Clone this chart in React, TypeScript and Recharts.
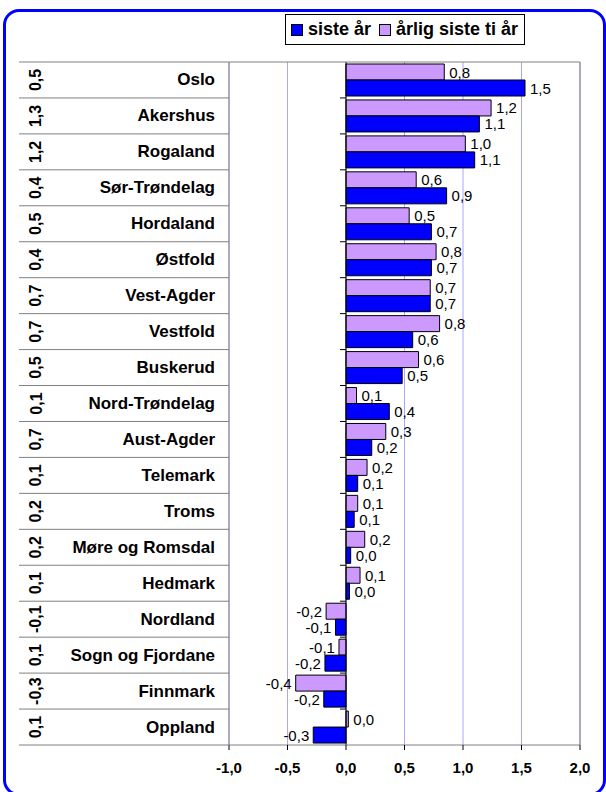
import React from "react";
import {
  BarChart,
  Bar,
  XAxis,
  YAxis,
  CartesianGrid,
  ReferenceLine,
  LabelList,
} from "recharts";

const CATEGORIES = [
  "Oslo",
  "Akershus",
  "Rogaland",
  "Sør-Trøndelag",
  "Hordaland",
  "Østfold",
  "Vest-Agder",
  "Vestfold",
  "Buskerud",
  "Nord-Trøndelag",
  "Aust-Agder",
  "Telemark",
  "Troms",
  "Møre og Romsdal",
  "Hedmark",
  "Nordland",
  "Sogn og Fjordane",
  "Finnmark",
  "Oppland",
];

// number shown rotated in the outer label column
const OUTER_VALUES = [
  0.5, 1.3, 1.2, 0.4, 0.5, 0.4, 0.7, 0.7, 0.5, 0.1, 0.7, 0.1, 0.2, 0.2, 0.1,
  -0.1, 0.1, -0.3, 0.1,
];

const SISTE_AAR = [
  1.53, 1.14, 1.1, 0.86, 0.73, 0.73, 0.72, 0.57, 0.48, 0.37, 0.22, 0.1, 0.07,
  0.04, 0.03, -0.09, -0.18, -0.19, -0.28,
];

const ARLIG_TI_AAR = [
  0.84, 1.24, 1.02, 0.6, 0.54, 0.77, 0.72, 0.8, 0.62, 0.09, 0.34, 0.18, 0.1,
  0.16, 0.12, -0.17, -0.06, -0.43, 0.02,
];

const X_TICKS = [-1, -0.5, 0, 0.5, 1, 1.5, 2];

const SERIES_NAMES = ["siste år", "årlig siste ti år"];
const BLUE = "#0000FF";
const PURPLE = "#CC99FF";

const data = CATEGORIES.map((name, i) => ({
  name,
  siste: SISTE_AAR[i],
  tiAar: ARLIG_TI_AAR[i],
}));

const FONT = "Arial, 'Liberation Sans', sans-serif";
const W = 606;
const H = 792;
const MARGIN = { top: 62, right: 26, bottom: 0, left: 19 };
const Y_AXIS_W = 210;
const X_AXIS_H = 47;
const PLOT_LEFT = MARGIN.left + Y_AXIS_W;
const PLOT_RIGHT = W - MARGIN.right;
const PLOT_H = H - MARGIN.top - MARGIN.bottom - X_AXIS_H;
const ROW_H = PLOT_H / CATEGORIES.length;
const DOMAIN: [number, number] = [X_TICKS[0], X_TICKS[X_TICKS.length - 1]];
const ZERO_X =
  PLOT_LEFT + ((0 - DOMAIN[0]) / (DOMAIN[1] - DOMAIN[0])) * (PLOT_RIGHT - PLOT_LEFT);
const LINE_GRAY = "#808080";
const GRID_BLUE = "#A8A8FF";

const fmt = (v: number) => v.toFixed(1).replace(".", ",");

const RowTick = (props: any) => {
  const { y, payload } = props;
  const i = CATEGORIES.indexOf(payload.value);
  const top = y - ROW_H / 2;
  const bottom = y + ROW_H / 2;
  const last = i === CATEGORIES.length - 1;
  return (
    <g>
      <line
        x1={MARGIN.left}
        x2={i === 0 ? PLOT_RIGHT : PLOT_LEFT}
        y1={top}
        y2={top}
        stroke={LINE_GRAY}
      />
      {last && (
        <line x1={MARGIN.left} x2={PLOT_LEFT} y1={bottom} y2={bottom} stroke={LINE_GRAY} />
      )}
      {i > 0 && <line x1={ZERO_X - 6} x2={ZERO_X} y1={top} y2={top} stroke="#000" />}
      <text
        x={PLOT_LEFT - 14}
        y={y}
        textAnchor="end"
        dominantBaseline="central"
        fontFamily={FONT}
        fontWeight="bold"
        fontSize={17}
        fill="#000"
      >
        {payload.value}
      </text>
      <text
        x={MARGIN.left + 17}
        y={y}
        transform={`rotate(-90, ${MARGIN.left + 17}, ${y})`}
        textAnchor="middle"
        dominantBaseline="central"
        fontFamily={FONT}
        fontWeight="bold"
        fontSize={16}
        fill="#000"
      >
        {fmt(OUTER_VALUES[i])}
      </text>
    </g>
  );
};

const ValueLabel = (props: any) => {
  const { x, y, width, height, value } = props;
  const left = Math.min(x, x + width);
  const right = Math.max(x, x + width);
  const neg = value < 0;
  return (
    <text
      x={neg ? left - 4 : right + 5}
      y={y + height / 2}
      textAnchor={neg ? "end" : "start"}
      dominantBaseline="central"
      fontFamily={FONT}
      fontSize={15}
      fill="#000"
    >
      {fmt(value)}
    </text>
  );
};

const LegendBox = () => (
  <div
    style={{
      position: "absolute",
      left: 285,
      top: 14,
      height: 31,
      boxSizing: "border-box",
      border: "1px solid #000",
      background: "#fff",
      display: "flex",
      alignItems: "center",
      padding: "0 6px 0 5px",
      fontFamily: FONT,
      fontWeight: "bold",
      fontSize: 18,
      whiteSpace: "nowrap",
    }}
  >
    {SERIES_NAMES.map((n, i) => (
      <React.Fragment key={n}>
        <span
          style={{
            display: "inline-block",
            width: 12,
            height: 12,
            boxSizing: "border-box",
            border: "1px solid #000",
            background: i === 0 ? BLUE : PURPLE,
            marginRight: 5,
            marginLeft: i === 0 ? 0 : 8,
          }}
        />
        <span>{n}</span>
      </React.Fragment>
    ))}
  </div>
);

export default function App() {
  return (
    <div style={{ position: "absolute", left: 0, top: 0, width: W, height: H, background: "#fff" }}>
      <div
        style={{
          position: "absolute",
          left: 3,
          top: 9,
          width: 603,
          height: 787,
          boxSizing: "border-box",
          border: `3px solid ${BLUE}`,
          borderRadius: 16,
        }}
      />
      <div style={{ position: "absolute", left: 0, top: 0 }}>
        <BarChart
          width={W}
          height={H}
          data={data}
          layout="vertical"
          margin={MARGIN}
          barCategoryGap={2}
          barGap={0}
        >
          <CartesianGrid vertical horizontal={false} stroke={GRID_BLUE} />
          <XAxis
            type="number"
            domain={DOMAIN}
            ticks={X_TICKS}
            tickFormatter={fmt}
            height={X_AXIS_H}
            tickSize={5}
            tickMargin={12}
            axisLine={{ stroke: LINE_GRAY }}
            tickLine={{ stroke: "#000" }}
            tick={{ fontSize: 15, fontWeight: "bold", fill: "#000", fontFamily: FONT }}
            allowDataOverflow
          />
          <YAxis
            type="category"
            dataKey="name"
            width={Y_AXIS_W}
            interval={0}
            tickLine={false}
            axisLine={{ stroke: LINE_GRAY }}
            tick={<RowTick />}
          />
          <ReferenceLine x={2} stroke={LINE_GRAY} />
          <Bar dataKey="tiAar" name={SERIES_NAMES[1]} fill={PURPLE} stroke="#000" strokeWidth={1} isAnimationActive={false}>
            <LabelList dataKey="tiAar" content={<ValueLabel />} />
          </Bar>
          <Bar dataKey="siste" name={SERIES_NAMES[0]} fill={BLUE} stroke="#000" strokeWidth={1} isAnimationActive={false}>
            <LabelList dataKey="siste" content={<ValueLabel />} />
          </Bar>
          <ReferenceLine x={0} stroke="#000" />
        </BarChart>
      </div>
      <LegendBox />
    </div>
  );
}
